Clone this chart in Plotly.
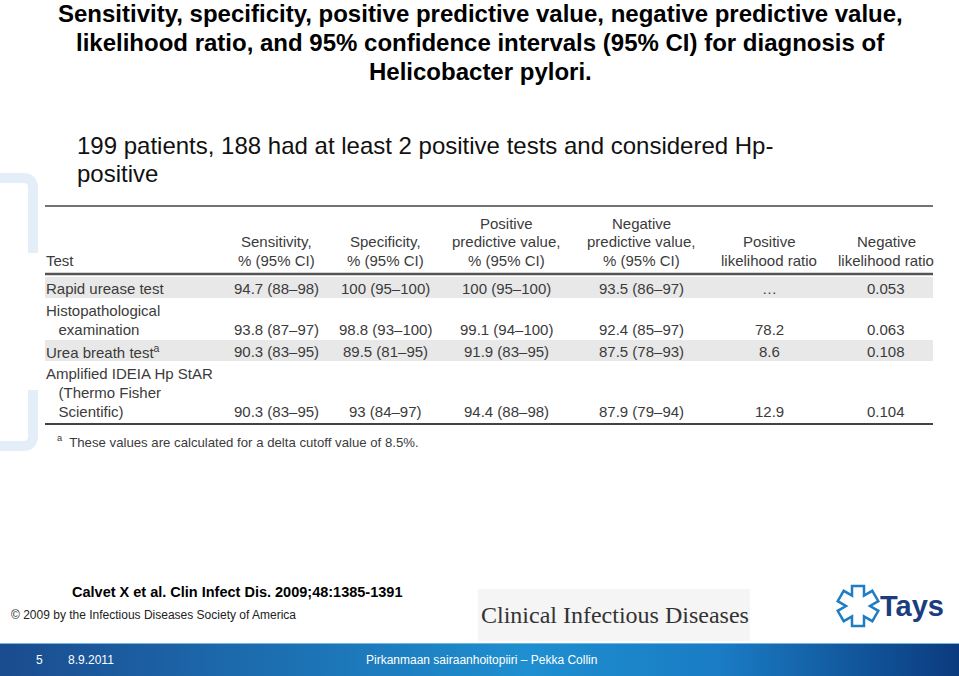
import numpy as np
import plotly.graph_objects as go

# ---- slide text ----
title_lines = ["Sensitivity, specificity, positive predictive value, negative predictive value,",
               "likelihood ratio, and 95% confidence intervals (95% CI) for diagnosis of",
               "Helicobacter pylori."]
subtitle_lines = ["199 patients, 188 had at least 2 positive tests and considered Hp-",
                  "positive"]

# ---- table data ----
col_headers = [["Sensitivity,", "% (95% CI)"],
               ["Specificity,", "% (95% CI)"],
               ["Positive", "predictive value,", "% (95% CI)"],
               ["Negative", "predictive value,", "% (95% CI)"],
               ["Positive", "likelihood ratio"],
               ["Negative", "likelihood ratio"]]
tests = [["Rapid urease test"],
         ["Histopathological", "  examination"],
         ["Urea breath test<sup>a</sup>"],
         ["Amplified IDEIA Hp StAR", "  (Thermo Fisher", "  Scientific)"]]
sensitivity = ["94.7 (88–98)", "93.8 (87–97)", "90.3 (83–95)", "90.3 (83–95)"]
specificity = ["100 (95–100)", "98.8 (93–100)", "89.5 (81–95)", "93 (84–97)"]
ppv = ["100 (95–100)", "99.1 (94–100)", "91.9 (83–95)", "94.4 (88–98)"]
npv = ["93.5 (86–97)", "92.4 (85–97)", "87.5 (78–93)", "87.9 (79–94)"]
plr = ["…", "78.2", "8.6", "12.9"]
nlr = ["0.053", "0.063", "0.108", "0.104"]
footnote = "<sup>a</sup>  These values are calculated for a delta cutoff value of 8.5%."

reference = "Calvet X et al. Clin Infect Dis. 2009;48:1385-1391"
copyright_txt = "© 2009 by the Infectious Diseases Society of America"
journal = "Clinical Infectious Diseases"
slide_no, slide_date = "5", "8.9.2011"
footer_txt = "Pirkanmaan sairaanhoitopiiri – Pekka Collin"

W, H = 959, 676
TFONT = "Liberation Sans, Arial, sans-serif"
TCOL = "#3b3b3b"
col_x = [276, 385, 506, 641, 769, 886]
ann = []
shapes = []


def txt(x, y, s, size, color="black", anchor="left", bold=False, family=TFONT, yanchor="middle"):
    if bold:
        s = "<b>" + s + "</b>"
    ann.append(dict(x=x, y=y, xref="x", yref="y", text=s, showarrow=False,
                    xanchor=anchor, yanchor=yanchor,
                    font=dict(size=size, color=color, family=family)))


def hline(x0, x1, y, color, width):
    shapes.append(dict(type="line", xref="x", yref="y", x0=x0, x1=x1, y0=y, y1=y,
                       line=dict(color=color, width=width), layer="above"))


# ---- left bracket decoration ----
deco = "#e4eef9"
shapes.append(dict(type="path", xref="x", yref="y", layer="below",
                   path="M -5,178 L 23,178 Q 33,178 33,188 L 33,253",
                   line=dict(color=deco, width=10)))
shapes.append(dict(type="path", xref="x", yref="y", layer="below",
                   path="M 33,390 L 33,436 Q 33,446 23,446 L -5,446",
                   line=dict(color=deco, width=10)))

# ---- title & subtitle ----
for i, s in enumerate(title_lines):
    txt(480, 13 + i * 29, s, 24, anchor="center", bold=True)
for i, s in enumerate(subtitle_lines):
    txt(75, 145 + i * 28, s, 24, color="#111111")

# ---- table ----
TX0, TX1 = 45, 933
hline(TX0, TX1, 206, "#444444", 1.5)
txt(44, 260, "Test", 15, TCOL)
for cx, lines in zip(col_x, col_headers):
    n = len(lines)
    for j, s in enumerate(lines):
        txt(cx, 260 - (n - 1 - j) * 18.5, s, 15, TCOL, anchor="center")
hline(TX0, TX1, 274, "#555555", 2.5)

values = list(zip(sensitivity, specificity, ppv, npv, plr, nlr))
y = 288
for r, (lines, vals) in enumerate(zip(tests, values)):
    ys = [y + k * 19 for k in range(len(lines))]
    if r % 2 == 0:
        shapes.append(dict(type="rect", xref="x", yref="y", x0=TX0, x1=TX1,
                           y0=ys[0] - 11, y1=ys[-1] + 10, fillcolor="#e8e8e8",
                           line=dict(width=0), layer="below"))
    for yy, s in zip(ys, lines):
        txt(44, yy, s.replace("  ", "&nbsp;&nbsp;&nbsp;"), 15, TCOL)
    for cx, v in zip(col_x, vals):
        txt(cx, ys[-1], v, 15, TCOL, anchor="center")
    y = ys[-1] + 22
hline(TX0, TX1, 424, "#444444", 2)
txt(55, 441, footnote, 13.2, TCOL)

# ---- references / logos ----
txt(70, 592, reference, 14.5, bold=True)
txt(9, 615, copyright_txt, 12, "#222222")
shapes.append(dict(type="rect", xref="x", yref="y", x0=478, x1=750, y0=589, y1=641,
                   fillcolor="#f5f5f5", line=dict(width=0), layer="below"))
txt(615, 615, journal, 24, "#333333", anchor="center",
    family="Liberation Serif, Times New Roman, serif")

# Tays star outline (6 arms), built in math coords then flipped to screen
cx0, cy0, L, w = 858, 606, 20, 6
pts = []
for k in range(6):
    th = np.deg2rad(90 + 60 * k)
    u = np.array([np.cos(th), np.sin(th)])
    v = np.array([-np.sin(th), np.cos(th)])
    for p in (L * u - w * v, L * u + w * v,
              2 * w * np.array([np.cos(th + np.deg2rad(30)), np.sin(th + np.deg2rad(30))])):
        pts.append((cx0 + p[0], cy0 - p[1]))
path = "M " + " L ".join(f"{p[0]:.1f},{p[1]:.1f}" for p in pts) + " Z"
shapes.append(dict(type="path", xref="x", yref="y", path=path,
                   line=dict(color="#1f7dc4", width=2.5), layer="above"))
txt(878, 606, "Tays", 29, "#1b3d7d", bold=True)

# ---- footer bar ----
bar = go.Scatter(x=[0, W, W, 0, 0], y=[643, 643, H, H, 643], mode="lines",
                 line=dict(width=0), fill="toself", hoverinfo="skip",
                 fillgradient=dict(type="horizontal",
                                   colorscale=[[0, "#1a4c8f"], [0.55, "#1e8fd0"],
                                               [0.75, "#1a7cc4"], [1, "#0c3a7e"]]))
hline(0, W, 643.5, "#6fb6e4", 1)
txt(34, 660, slide_no, 12, "white")
txt(66, 660, slide_date, 12, "white")
txt(364, 660, footer_txt, 12, "white")

fig = go.Figure(bar)
fig.update_layout(width=W, height=H, margin=dict(l=0, r=0, t=0, b=0),
                  paper_bgcolor="white", plot_bgcolor="white", showlegend=False,
                  xaxis=dict(range=[0, W], visible=False, fixedrange=True),
                  yaxis=dict(range=[H, 0], visible=False, fixedrange=True),
                  annotations=ann, shapes=shapes)
fig.write_html("out.html", config={"displayModeBar": False},
               post_script="document.body.style.margin='0';document.body.style.overflow='hidden';")
